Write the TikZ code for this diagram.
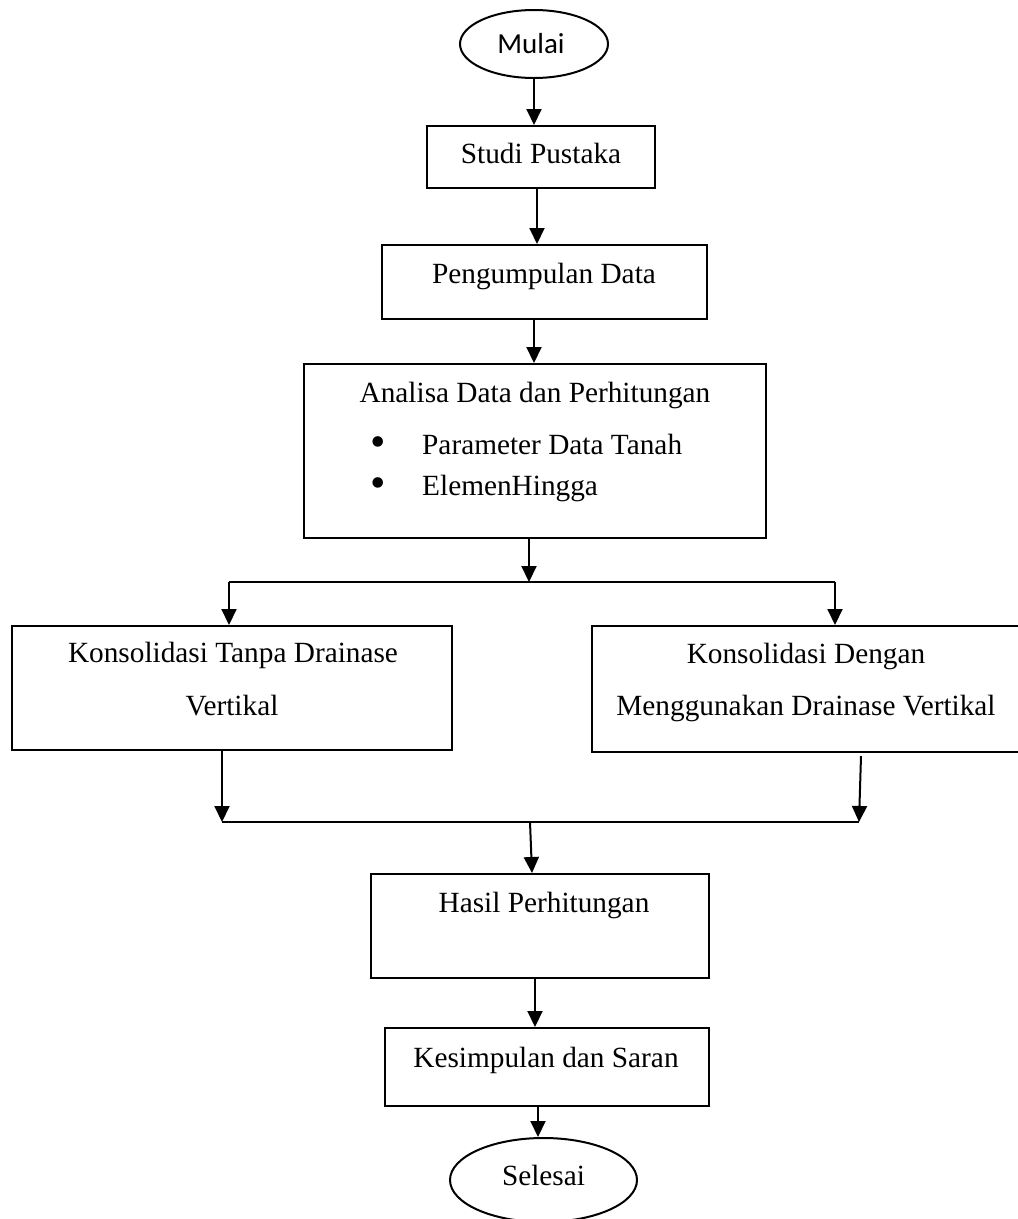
\documentclass[tikz,border=0pt]{standalone}
\usepackage{fontspec}
\setmainfont{Liberation Serif}
\newfontfamily\calibfont{Carlito}
\usetikzlibrary{arrows.meta,shapes.geometric}
\begin{document}
\begin{tikzpicture}[x=1pt,y=-1pt,
  box/.style={draw,rectangle,inner sep=0pt,line width=2pt},
  oval/.style={draw,ellipse,inner sep=0pt,line width=2pt},
  txt/.style={inner sep=0pt,anchor=base,font=\fontsize{29.3}{35}\selectfont},
  bul/.style={inner sep=0pt,anchor=base,font=\fontsize{44}{44}\selectfont},
  arr/.style={-{Triangle[width=15pt,length=16pt]},line width=2pt},
  ln/.style={line width=2pt}]
\useasboundingbox (0,0) rectangle (1018,1219);
\fill[white] (0,0) rectangle (1018,1219);

% shapes
\node[oval,minimum width=148pt,minimum height=68pt] (mulai) at (534,44) {};
\node[box,minimum width=228pt,minimum height=62pt] (studi) at (541,157) {};
\node[box,minimum width=325pt,minimum height=74pt] (kumpul) at (544.5,282) {};
\node[box,minimum width=462pt,minimum height=174pt] (analisa) at (535,451) {};
\node[box,minimum width=440pt,minimum height=124pt] (kiri) at (232,688) {};
\node[box,minimum width=440pt,minimum height=126pt] (kanan) at (812,689) {};
\node[box,minimum width=338pt,minimum height=104pt] (hasil) at (540,926) {};
\node[box,minimum width=324pt,minimum height=78pt] (simpul) at (547,1067) {};
\node[oval,minimum width=187pt,minimum height=84pt] (selesai) at (543.5,1180) {};

% texts
\node[txt,font=\calibfont\fontsize{29}{35}\selectfont] (tmulai) at (531,53) {Mulai};
\node[txt] (tstudi) at (541,163) {Studi Pustaka};
\node[txt] (tkumpul) at (544,283) {Pengumpulan Data};
\node[txt] (tanalisa) at (535,402) {Analisa Data dan Perhitungan};
\node[bul] (b1) at (378,456) {•};
\node[txt,anchor=base west] (tparam) at (422,454) {Parameter Data Tanah};
\node[bul] (b2) at (378,497) {•};
\node[txt,anchor=base west] (telemen) at (422,495) {ElemenHingga};
\node[txt] (tkiri1) at (233,662) {Konsolidasi Tanpa Drainase};
\node[txt] (tkiri2) at (232,715) {Vertikal};
\node[txt] (tkanan1) at (806,663) {Konsolidasi Dengan};
\node[txt] (tkanan2) at (806,715) {Menggunakan Drainase Vertikal};
\node[txt] (thasil) at (544,912) {Hasil Perhitungan};
\node[txt] (tsimpul) at (546,1067) {Kesimpulan dan Saran};
\node[txt] (tselesai) at (543.5,1185) {Selesai};

% junction points
\coordinate (bc) at (529,582);
\coordinate (bl) at (229,582);
\coordinate (br) at (835,582);
\coordinate (ml) at (222,822);
\coordinate (mr) at (859,822);
\coordinate (mc) at (530,822);
\coordinate (kr) at (861,756);

% connectors
\draw[arr] (mulai.south) -- (mulai.south |- studi.north);
\draw[arr] ([xshift=-4pt]studi.south) -- ([xshift=-4pt]studi.south |- kumpul.north);
\draw[arr] ([xshift=-10.5pt]kumpul.south) -- ([xshift=-10.5pt]kumpul.south |- analisa.north);
\draw[arr] (bc |- analisa.south) -- (bc);
\draw[ln] (bl) -- (br);
\draw[arr] (bl) -- (bl |- kiri.north);
\draw[arr] (br) -- (br |- kanan.north);
\draw[arr] (ml |- kiri.south) -- (ml);
\draw[arr] (kr) -- (mr);
\draw[ln] (ml) -- (mr);
\draw[arr] (mc) -- ([xshift=-8pt]hasil.north);
\draw[arr] ([xshift=-5pt]hasil.south) -- ([xshift=-5pt]hasil.south |- simpul.north);
\draw[arr] ([xshift=-9pt]simpul.south) -- ([xshift=-5.5pt]selesai.north);
\end{tikzpicture}
\end{document}
